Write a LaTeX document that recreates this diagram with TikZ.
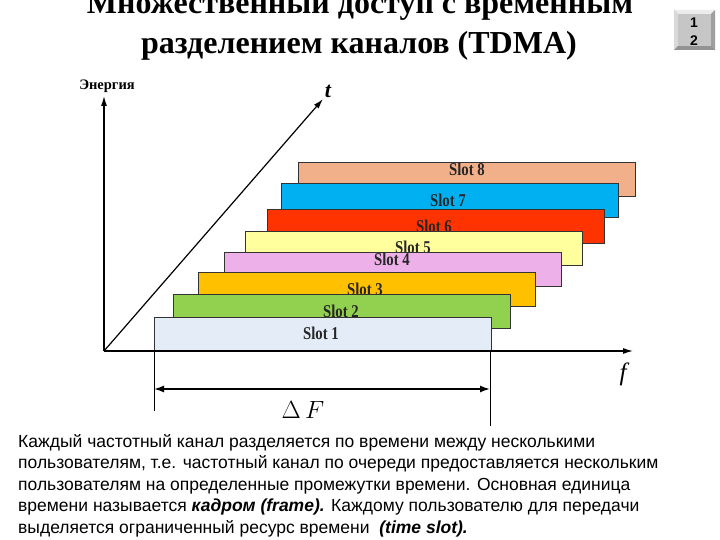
\documentclass[tikz,border=0pt]{standalone}
\usepackage{fontspec}
\setmainfont{Liberation Serif}
\newfontfamily\arialf{Liberation Sans}
\newfontfamily\condserif[FakeStretch=0.82]{Liberation Serif}
\usetikzlibrary{arrows.meta}
\definecolor{c1}{HTML}{E3ECF7}
\definecolor{c2}{HTML}{92D050}
\definecolor{c3}{HTML}{FFC000}
\definecolor{c4}{HTML}{EEB0E8}
\definecolor{c5}{HTML}{FFFF9E}
\definecolor{c6}{HTML}{FF3300}
\definecolor{c7}{HTML}{00B0F0}
\definecolor{c8}{HTML}{F2B08A}
\begin{document}
\begin{tikzpicture}[x=1pt,y=-1pt,
  slotbox/.style={draw=black!80, line width=0.9pt, minimum width=337pt, minimum height=34pt, anchor=north west, inner sep=0pt},
  slotlabel/.style={font=\condserif\bfseries\fontsize{18}{18}\selectfont, text=black!85, inner sep=0pt},
  axisarrow/.style={line width=1.2pt,-{Latex[length=10pt,width=6pt]}},
  thinline/.style={line width=0.9pt},
]
\useasboundingbox (0,0) rectangle (720,540);
\fill[white] (0,0) rectangle (720,540);
% title
\node[anchor=base, font=\bfseries\fontsize{32}{32}\selectfont, inner sep=0pt] (title1) at (360,14) {Множественный доступ с временным};
\node[anchor=base, font=\bfseries\fontsize{32}{32}\selectfont, inner sep=0pt] (title2) at (359,54) {разделением каналов (TDMA)};
% button
\fill[gray!60] (674,10) rectangle (715,50);
\fill[gray!15] (674,10) -- (715,10) -- (711,14) -- (678,14) -- cycle;
\fill[gray!30] (674,10) -- (678,14) -- (678,46) -- (674,50) -- cycle;
\fill[gray!75] (715,10) -- (715,50) -- (711,46) -- (711,14) -- cycle;
\fill[gray!85] (674,50) -- (715,50) -- (711,46) -- (678,46) -- cycle;
\fill[gray!45] (678,14) rectangle (711,46);
\node[font=\arialf\bfseries\fontsize{14}{14}\selectfont, inner sep=0pt] (n1) at (694,23) {1};
\node[font=\arialf\bfseries\fontsize{14}{14}\selectfont, inner sep=0pt] (n2) at (694,41) {2};
% slots (back to front)
\node[slotbox, fill=c8] (s8) at (298,162) {};
\node[slotlabel] (l8) at (467,169) {Slot 8};
\node[slotbox, fill=c7] (s7) at (281,183) {};
\node[slotlabel] (l7) at (448,200) {Slot 7};
\node[slotbox, fill=c6] (s6) at (267,209) {};
\node[slotlabel] (l6) at (434,226) {Slot 6};
\node[slotbox, fill=c5] (s5) at (245,231) {};
\node[slotlabel] (l5) at (413,247) {Slot 5};
\node[slotbox, fill=c4] (s4) at (224,252) {};
\node[slotlabel] (l4) at (392,259) {Slot 4};
\node[slotbox, fill=c3] (s3) at (198,272) {};
\node[slotlabel] (l3) at (365,289) {Slot 3};
\node[slotbox, fill=c2] (s2) at (173,294) {};
\node[slotlabel] (l2) at (341,311) {Slot 2};
\node[slotbox, fill=c1, minimum height=34pt] (s1) at (154,317) {};
\node[slotlabel] (l1) at (321,333) {Slot 1};
% axes
\coordinate (O) at (104,351);
\coordinate (Etop) at (104,96);
\coordinate (ttip) at (323,99);
\coordinate (ftip) at (633,351);
\draw[axisarrow] (O) -- (Etop);
\draw[axisarrow] (O) -- (ttip);
\draw[axisarrow] (O) -- (ftip);
\node[font=\bfseries\fontsize{14.5}{14.5}\selectfont, inner sep=0pt] (elabel) at (107,86) {Энергия};
\node[font=\bfseries\itshape\fontsize{22}{22}\selectfont, inner sep=0pt] (tlabel) at (328,91) {t};
\node[font=\itshape\fontsize{25}{25}\selectfont, inner sep=0pt] (flabel) at (623,374) {f};
% delta F
\coordinate (vl1) at (154,351);
\coordinate (vl2) at (154,411);
\coordinate (vr1) at (490,351);
\coordinate (vr2) at (490,426);
\draw[thinline] (vl1) -- (vl2);
\draw[thinline] (vr1) -- (vr2);
\coordinate (dl) at (154,389);
\coordinate (dr) at (490,389);
\draw[line width=1.6pt, {Latex[length=10pt,width=7pt]}-{Latex[length=10pt,width=7pt]}] (dl) -- (dr);
\node[inner sep=0pt, font=\fontsize{23}{23}\selectfont] (dF) at (303,410) {$\Delta\, F$};
% paragraph
\node[anchor=north west, inner sep=0pt, align=left, font=\arialf\fontsize{17.5}{21.5}\selectfont] (para) at (18,434) {%
Каждый частотный канал разделяется по времени между несколькими\\
пользователям, т.е. частотный канал по очереди предоставляется нескольким\\
пользователям на определенные промежутки времени. Основная единица\\
времени называется \textbf{\textit{кадром (frame).}} Каждому пользователю для передачи\\
выделяется ограниченный ресурс времени \ \textbf{\textit{(time slot).}}};
\end{tikzpicture}
\end{document}
